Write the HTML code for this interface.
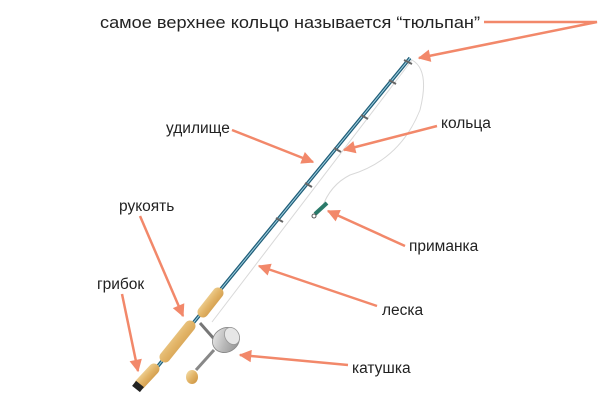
<!DOCTYPE html>
<html><head><meta charset="utf-8"><style>
html,body{margin:0;padding:0;background:#fff;}
svg{display:block}
text{font-family:"Liberation Sans",Arial,sans-serif;font-size:15.5px;fill:#222}
</style></head><body>
<svg width="605" height="404" viewBox="0 0 605 404" xmlns="http://www.w3.org/2000/svg">
<defs>
<marker id="a" viewBox="0 0 10 10" refX="9" refY="5" markerWidth="6" markerHeight="5" orient="auto" markerUnits="strokeWidth">
<path d="M0,0 L10,5 L0,10 z" fill="#f2886a"/></marker>
<linearGradient id="g" x1="0" y1="0" x2="1" y2="1">
<stop offset="0" stop-color="#f6e2b0"/><stop offset="0.5" stop-color="#e2b467"/><stop offset="1" stop-color="#c98f3c"/></linearGradient>
<linearGradient id="m" x1="0" y1="0" x2="1" y2="1">
<stop offset="0" stop-color="#f2f2f2"/><stop offset="0.5" stop-color="#b8b8b8"/><stop offset="1" stop-color="#8a8a8a"/></linearGradient>
</defs>
<path d="M212,322 L412,60 Q430,70 420,110 Q400,160 350,175 Q330,185 322,208" fill="none" stroke="#d8d8d8" stroke-width="1"/>
<line x1="140" y1="388" x2="410" y2="58" stroke="#1f5d78" stroke-width="3.5"/>
<line x1="140" y1="388" x2="410" y2="58" stroke="#9fd0e0" stroke-width="1"/>
<g stroke="#666" stroke-width="2">
<line x1="404" y1="60" x2="412" y2="64"/>
<line x1="389" y1="80" x2="396" y2="84"/>
<line x1="361" y1="115" x2="368" y2="119"/>
<line x1="334" y1="148" x2="341" y2="152"/>
<line x1="305" y1="183" x2="312" y2="187"/>
<line x1="276" y1="218" x2="283" y2="222"/>
</g>
<line x1="315" y1="214" x2="327" y2="203" stroke="#2a7a6a" stroke-width="4"/>
<circle cx="314" cy="216" r="2" fill="none" stroke="#555"/>
<line x1="203" y1="312" x2="218" y2="293" stroke="url(#g)" stroke-width="11" stroke-linecap="round"/>
<line x1="165" y1="357" x2="190" y2="326" stroke="url(#g)" stroke-width="11" stroke-linecap="round"/>
<line x1="140" y1="384" x2="154" y2="369" stroke="url(#g)" stroke-width="11" stroke-linecap="round"/>
<line x1="136" y1="389" x2="140" y2="384" stroke="#222" stroke-width="10"/>
<line x1="200" y1="323" x2="215" y2="340" stroke="#777" stroke-width="3"/>
<ellipse cx="226" cy="340" rx="14" ry="12" fill="url(#m)" stroke="#888" stroke-width="0.8" transform="rotate(-30 226 340)"/>
<ellipse cx="232" cy="336" rx="7" ry="9" fill="#e6e6e6" stroke="#999" stroke-width="0.8" transform="rotate(-30 232 336)"/>
<line x1="214" y1="350" x2="196" y2="370" stroke="#888" stroke-width="3"/>
<ellipse cx="192" cy="377" rx="6" ry="7" fill="url(#g)"/>
<text x="100" y="28" style="font-size:17px" textLength="380" lengthAdjust="spacingAndGlyphs">самое верхнее кольцо называется “тюльпан”</text>
<text x="166" y="133">удилище</text>
<text x="441" y="128">кольца</text>
<text x="119" y="211">рукоять</text>
<text x="97" y="289">грибок</text>
<text x="409" y="251">приманка</text>
<text x="382" y="315">леска</text>
<text x="352" y="373">катушка</text>
<g stroke="#f2886a" stroke-width="2.5" fill="none">
<polyline points="484,22 597,22 419,58" marker-end="url(#a)"/>
<line x1="232" y1="130" x2="313" y2="162" marker-end="url(#a)"/>
<line x1="437" y1="126" x2="344" y2="150" marker-end="url(#a)"/>
<line x1="140" y1="216" x2="183" y2="316" marker-end="url(#a)"/>
<line x1="122" y1="294" x2="138" y2="371" marker-end="url(#a)"/>
<line x1="405" y1="246" x2="328" y2="211" marker-end="url(#a)"/>
<line x1="377" y1="306" x2="259" y2="266" marker-end="url(#a)"/>
<line x1="348" y1="365" x2="240" y2="355" marker-end="url(#a)"/>
</g>
</svg>
</body></html>
